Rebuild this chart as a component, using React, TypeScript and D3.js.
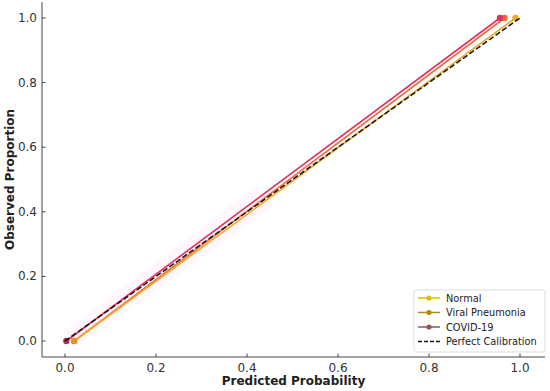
import React from "react";
import * as d3 from "d3";

const ticks = [0, 0.2, 0.4, 0.6, 0.8, 1.0];
const tickLabels = ["0.0", "0.2", "0.4", "0.6", "0.8", "1.0"];

const seriesNames = ["Normal", "Viral Pneumonia", "COVID-19"];
const normalX = [0.02, 0.99];
const normalY = [0, 1];
const viralX = [0.02, 0.966];
const viralY = [0, 1];
const covidX = [0.003, 0.956];
const covidY = [0, 1];
const perfectX = [0, 1];
const perfectY = [0, 1];

const plotColors = ["#f2a622", "#f26a3e", "#e5305c"];
const legendColors = ["#d9c100", "#b38a12", "#8c5a52"];
const markerColorsBottom = ["#e49220", "#e08a20", "#a83048"];

export default function App() {
  const W = 550, H = 391;
  const x = d3.scaleLinear().domain([0, 1]).range([65, 520]);
  const y = d3.scaleLinear().domain([0, 1]).range([341, 18]);
  const xMin = x.invert(42), xMax = x.invert(545);
  const yMin = y.invert(357), yMax = y.invert(2);

  const line = d3.line<[number, number]>().x(d => x(d[0])).y(d => y(d[1]));
  const series = [
    { xs: normalX, ys: normalY },
    { xs: viralX, ys: viralY },
    { xs: covidX, ys: covidY },
  ];
  const drawOrder = [1, 0, 2];

  // faint pink band around the lower part of the curves
  const bandTop: [number, number][] = [[0, 0.03], [0.42, 0.48]];
  const bandBot: [number, number][] = [[0.03, -0.015], [0.46, 0.42]];
  const bandPts = [...bandTop, ...bandBot.slice().reverse()];
  const band = "M" + bandPts.map(p => `${x(p[0])},${y(p[1])}`).join("L") + "Z";

  const font = "DejaVu Sans, sans-serif";
  const legendEntries = [...seriesNames, "Perfect Calibration"];

  return (
    <svg width={W} height={H} style={{ position: "absolute", left: 0, top: 0, background: "#fff" }} fontFamily={font}>
      <path d={band} fill="#ffb0ee" opacity={0.1} />
      {drawOrder.map(i => {
        const s = series[i];
        const pts = s.xs.map((v, j) => [v, s.ys[j]] as [number, number]);
        return (
          <g key={i}>
            <path d={line(pts) || ""} fill="none" stroke={plotColors[i]} strokeWidth={1.6} />
            {pts.map((p, j) => (
              <circle key={j} cx={x(p[0])} cy={y(p[1])} r={3.2} fill={j === 0 ? markerColorsBottom[i] : plotColors[i]} />
            ))}
          </g>
        );
      })}
      <path
        d={line(perfectX.map((v, j) => [v, perfectY[j]] as [number, number])) || ""}
        fill="none" stroke="#111" strokeWidth={1.5} strokeDasharray="5.5,2.5"
      />
      {/* axes spines */}
      <line x1={x(xMin)} x2={x(xMin)} y1={y(yMin)} y2={y(yMax)} stroke="#444" strokeWidth={1} />
      <line x1={x(xMin)} x2={x(xMax)} y1={y(yMin)} y2={y(yMin)} stroke="#444" strokeWidth={1} />
      {ticks.map((t, i) => (
        <g key={"x" + i}>
          <line x1={x(t)} x2={x(t)} y1={y(yMin)} y2={y(yMin) - 3.5} stroke="#444" />
          <text x={x(t)} y={y(yMin) + 11} textAnchor="middle" dominantBaseline="central" fontSize={12} fill="#333">{tickLabels[i]}</text>
        </g>
      ))}
      {ticks.map((t, i) => (
        <g key={"y" + i}>
          <line x1={x(xMin)} x2={x(xMin) + 3.5} y1={y(t)} y2={y(t)} stroke="#444" />
          <text x={x(xMin) - 5} y={y(t)} textAnchor="end" dominantBaseline="central" fontSize={12} fill="#333">{tickLabels[i]}</text>
        </g>
      ))}
      <text x={(x(xMin) + x(xMax)) / 2} y={381} textAnchor="middle" dominantBaseline="central" fontSize={12} fontWeight="bold" fill="#222">Predicted Probability</text>
      <text transform={`translate(10,${(y(yMin) + y(yMax)) / 2}) rotate(-90)`} textAnchor="middle" dominantBaseline="central" fontSize={12} fontWeight="bold" fill="#222">Observed Proportion</text>
      {/* legend */}
      <rect x={414} y={290} width={131} height={62} rx={2} fill="#fff" fillOpacity={0.85} stroke="#ddd" />
      {legendEntries.map((name, i) => {
        const ly = 298 + i * 14.5;
        const isPerfect = i === 3;
        return (
          <g key={name}>
            <line x1={418} x2={440} y1={ly} y2={ly} stroke={isPerfect ? "#111" : legendColors[i]} strokeWidth={1.5} strokeDasharray={isPerfect ? "4,2" : undefined} />
            {!isPerfect && <circle cx={429} cy={ly} r={2.6} fill={legendColors[i]} />}
            <text x={446} y={ly} dominantBaseline="central" fontSize={9.8} fill="#222">{name}</text>
          </g>
        );
      })}
    </svg>
  );
}
